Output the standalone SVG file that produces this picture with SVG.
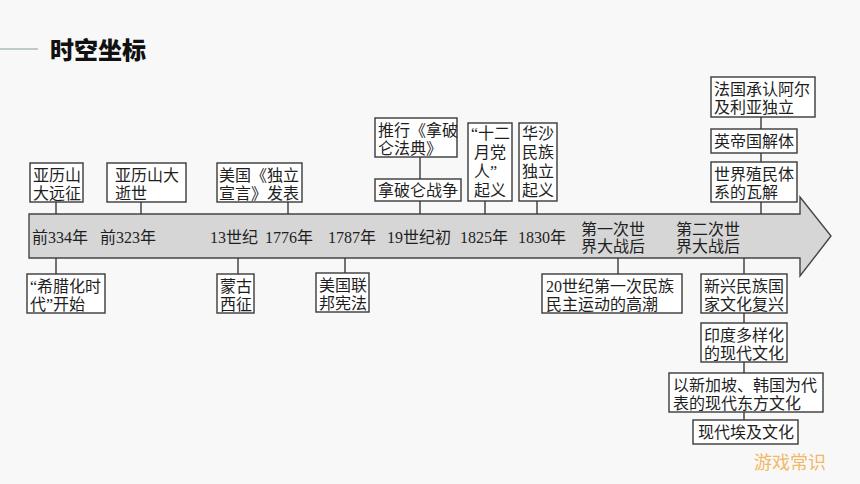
<svg xmlns="http://www.w3.org/2000/svg" width="860" height="484" viewBox="0 0 860 484">
<style>
.bx{fill:#ffffff;stroke:#3a3a3a;stroke-width:1.4}
.t{font-family:"Liberation Serif","Noto Sans CJK SC",serif;font-size:16px;fill:#1e1e1e}
.c{stroke:#3a3a3a;stroke-width:1.4;fill:none}
</style>
<rect x="0" y="0" width="860" height="484" fill="#f8f8f8"/>
<g id="title">
<line x1="0" y1="49" x2="38" y2="49" stroke="#7f9f9c" stroke-width="1.2"/>
<text x="50" y="59" font-family="'Noto Sans CJK SC',sans-serif" font-size="24" font-weight="900" fill="#111">时空坐标</text>
</g>
<g id="timeline">
<polygon points="29,214 800,214 800,197 831,236 800,276 800,258 29,258" fill="#d6d6d6" stroke="#444" stroke-width="1.4"/>
<g class="t">
<text x="32" y="243">前334年</text>
<text x="100" y="243">前323年</text>
<text x="210" y="243">13世纪</text>
<text x="265" y="243">1776年</text>
<text x="328" y="243">1787年</text>
<text x="387" y="243">19世纪初</text>
<text x="460" y="243">1825年</text>
<text x="518" y="243">1830年</text>
<text x="581" y="235">第一次世</text>
<text x="581" y="252">界大战后</text>
<text x="676" y="235">第二次世</text>
<text x="676" y="252">界大战后</text>
</g>
</g>
<g id="connectors">
<path class="c" d="M56,202V214M56,258V274M141,202V214M288,202V214M238,258V274M420,157V179M420,201V214M345,258V273M485,201V214M537,201V214M761,117V129M761,153V162M761,202V214M618,258V274M744,258V274M744,313V323M744,362V373M744,412V420"/>
</g>
<g id="n1"><rect class="bx" x="30" y="163" width="53" height="39"/><text class="t" x="33" y="181">亚历山</text><text class="t" x="33" y="199">大远征</text></g>
<g id="n2"><rect class="bx" x="107" y="163" width="79" height="39"/><text class="t" x="115" y="181">亚历山大</text><text class="t" x="115" y="199">逝世</text></g>
<g id="n3"><rect class="bx" x="217" y="163" width="85" height="39"/><text class="t" x="219" y="181">美国《独立</text><text class="t" x="219" y="199">宣言》发表</text></g>
<g id="n4"><rect class="bx" x="375" y="118" width="82" height="39"/><text class="t" x="378" y="136">推行《拿破</text><text class="t" x="378" y="154">仑法典》</text></g>
<g id="n5"><rect class="bx" x="375" y="179" width="86" height="22"/><text class="t" x="378" y="196">拿破仑战争</text></g>
<g id="n6"><rect class="bx" x="468" y="123" width="44" height="78"/><text class="t" x="471" y="139">“十二</text><text class="t" x="474" y="158">月党</text><text class="t" x="474" y="177">人”</text><text class="t" x="474" y="196">起义</text></g>
<g id="n7"><rect class="bx" x="519" y="123" width="38" height="78"/><text class="t" x="522" y="139">华沙</text><text class="t" x="522" y="158">民族</text><text class="t" x="522" y="177">独立</text><text class="t" x="522" y="196">起义</text></g>
<g id="n8"><rect class="bx" x="711" y="77" width="104" height="40"/><text class="t" x="714" y="95">法国承认阿尔</text><text class="t" x="714" y="113">及利亚独立</text></g>
<g id="n9"><rect class="bx" x="711" y="129" width="86" height="24"/><text class="t" x="714" y="147">英帝国解体</text></g>
<g id="n10"><rect class="bx" x="711" y="162" width="86" height="40"/><text class="t" x="714" y="180">世界殖民体</text><text class="t" x="714" y="198">系的瓦解</text></g>
<g id="n11"><rect class="bx" x="27" y="274" width="78" height="39"/><text class="t" x="30" y="292">“希腊化时</text><text class="t" x="30" y="310">代”开始</text></g>
<g id="n12"><rect class="bx" x="217" y="274" width="37" height="39"/><text class="t" x="220" y="292">蒙古</text><text class="t" x="220" y="310">西征</text></g>
<g id="n13"><rect class="bx" x="316" y="273" width="53" height="39"/><text class="t" x="319" y="291">美国联</text><text class="t" x="319" y="309">邦宪法</text></g>
<g id="n14"><rect class="bx" x="542" y="274" width="140" height="39"/><text class="t" x="546" y="292">20世纪第一次民族</text><text class="t" x="546" y="310">民主运动的高潮</text></g>
<g id="n15"><rect class="bx" x="701" y="274" width="86" height="39"/><text class="t" x="704" y="292">新兴民族国</text><text class="t" x="704" y="310">家文化复兴</text></g>
<g id="n16"><rect class="bx" x="701" y="323" width="86" height="39"/><text class="t" x="704" y="341">印度多样化</text><text class="t" x="704" y="359">的现代文化</text></g>
<g id="n17"><rect class="bx" x="669" y="373" width="154" height="39"/><text class="t" x="673" y="391">以新加坡、韩国为代</text><text class="t" x="673" y="409">表的现代东方文化</text></g>
<g id="n18"><rect class="bx" x="693" y="420" width="105" height="24"/><text class="t" x="698" y="438">现代埃及文化</text></g>
<text x="754" y="469" font-family="'Noto Sans CJK SC',sans-serif" font-size="18" fill="#f2b865">游戏常识</text>
</svg>
